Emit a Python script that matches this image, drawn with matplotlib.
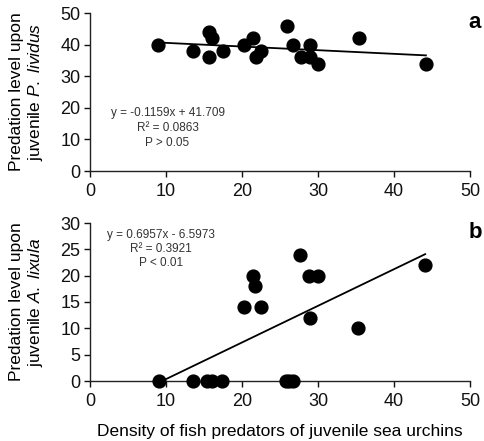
import matplotlib
matplotlib.use("Agg")
import matplotlib.pyplot as plt
import numpy as np

plt.rcParams['font.family'] = ['Liberation Sans', 'DejaVu Sans']
plt.rcParams['mathtext.fontset'] = 'custom'
plt.rcParams['mathtext.it'] = 'Liberation Sans:italic'
plt.rcParams['mathtext.rm'] = 'Liberation Sans'

# Panel a data
xa = [9.0, 13.5, 15.6, 16.0, 15.6, 17.5, 20.2, 21.4, 21.9, 22.5, 25.9, 26.7, 27.7, 28.9, 28.9, 30.0, 35.4, 44.2]
ya = [40, 38, 44, 42, 36, 38, 40, 42, 36, 38, 46, 40, 36, 40, 36, 34, 42, 34]
# Panel b data
xb = [9.1, 13.5, 15.4, 16.1, 17.4, 20.2, 21.4, 21.7, 22.5, 25.8, 26.2, 26.7, 27.6, 28.8, 28.9, 30.0, 35.3, 44.1]
yb = [0, 0, 0, 0, 0, 14, 20, 18, 14, 0, 0, 0, 24, 20, 12, 20, 10, 22]

fit_a = (-0.1159, 41.709)
fit_b = (0.6957, -6.5973)
text_a = ["y = -0.1159x + 41.709", "R² = 0.0863", "P > 0.05"]
text_b = ["y = 0.6957x - 6.5973", "R² = 0.3921", "P < 0.01"]
xticks = [0, 10, 20, 30, 40, 50]
yticks_a = [0, 10, 20, 30, 40, 50]
yticks_b = [0, 5, 10, 15, 20, 25, 30]

W, H = 484, 441
fig = plt.figure(figsize=(W/100, H/100), dpi=100)

def ax_rect(l, t, r, b):
    return [l/W, 1 - b/H, (r-l)/W, (b-t)/H]

axa = fig.add_axes(ax_rect(90, 13, 470, 171))
axb = fig.add_axes(ax_rect(90, 223, 470, 381))

def style(ax, yticks, ymax):
    ax.set_xlim(0, 50)
    ax.set_ylim(0, ymax)
    ax.set_xticks(xticks)
    ax.set_yticks(yticks)
    for s in ['top', 'right']:
        ax.spines[s].set_visible(False)
    for s in ['left', 'bottom']:
        ax.spines[s].set_color('#222222')
        ax.spines[s].set_linewidth(1.0)
    ax.tick_params(direction='out', length=4, width=1, labelsize=13, colors='#111111', pad=3)
    ax.tick_params(axis='x', pad=5)

def draw(ax, x, y, fit, texts, tx, ty0, yscale):
    x = np.asarray(x)
    xl = np.array([min(x), max(x)])
    ax.plot(xl, fit[0]*xl + fit[1], color='black', lw=1.3, zorder=2)
    ax.scatter(x, y, s=85, color='black', zorder=3, clip_on=False)
    for i, t in enumerate(texts):
        ax.text(tx, ty0 - i*yscale, t, ha='center', va='center', fontsize=8.5,
                color='#333333', fontstretch='condensed')

style(axa, yticks_a, 50)
style(axb, yticks_b, 30)
draw(axa, xa, ya, fit_a, text_a, 10.2, 18.2, 4.6)
draw(axb, xb, yb, fit_b, text_b, 9.3, 27.8, 2.7)

axa.set_ylabel("Predation level upon\njuvenile $\\it{P.\\ lividus}$", fontsize=12.5, labelpad=11, linespacing=1.1)
axb.set_ylabel("Predation level upon\njuvenile $\\it{A.\\ lixula}$", fontsize=12.5, labelpad=11, linespacing=1.1)
axb.set_xlabel("Density of fish predators of juvenile sea urchins", fontsize=12.5, labelpad=10)

fig.text(468/W, 1 - 22/H, "a", fontsize=16, fontweight='bold', ha='left', va='center')
fig.text(469/W, 1 - 233/H, "b", fontsize=16, fontweight='bold', ha='left', va='center')

fig.savefig("out.png", dpi=100)
